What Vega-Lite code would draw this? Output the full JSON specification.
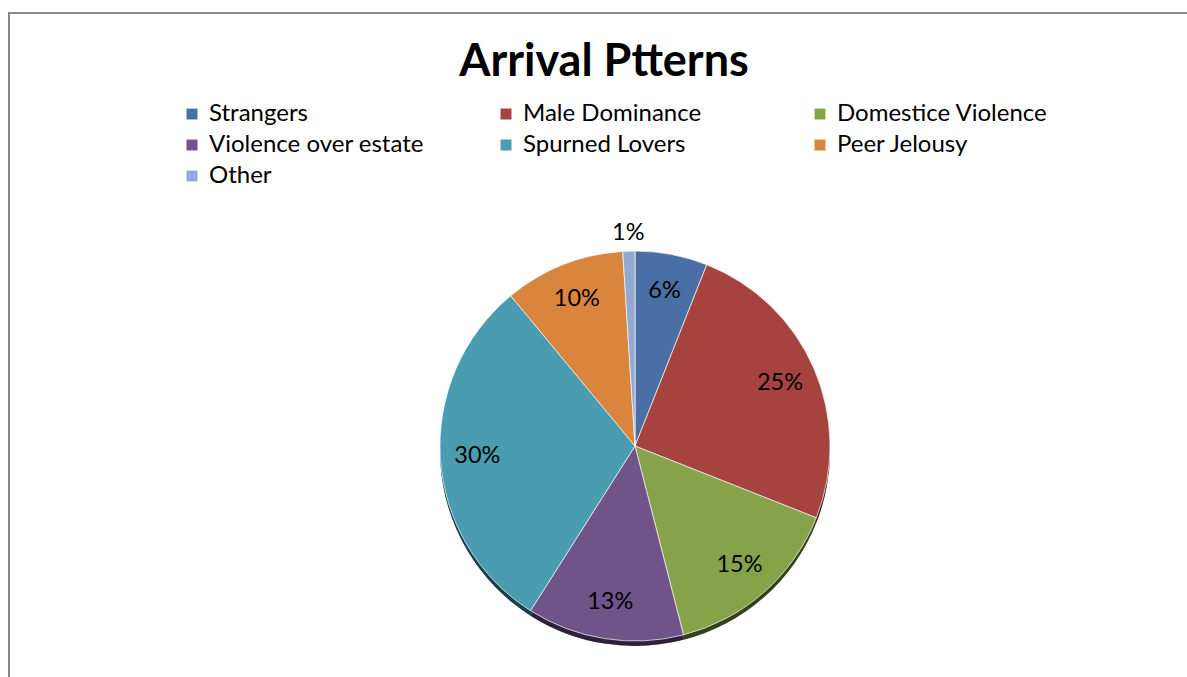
{
  "$schema": "https://vega.github.io/schema/vega-lite/v6.json",
  "width": 1252,
  "height": 866,
  "padding": {"left": 9, "top": 13, "right": 0, "bottom": 0},
  "background": "white",
  "view": {"stroke": "#888888", "strokeWidth": 2, "fill": "white"},
  "title": {
    "text": "Arrival Ptterns",
    "orient": "top",
    "anchor": "middle",
    "offset": -72,
    "dx": -31,
    "font": "Lato",
    "fontSize": 45,
    "fontWeight": "bold",
    "color": "#000000"
  },
  "data": {
    "values": [
      {"idx": 1, "cause": "Strangers", "share": 0.06},
      {"idx": 2, "cause": "Male Dominance", "share": 0.25},
      {"idx": 3, "cause": "Domestice Violence", "share": 0.15},
      {"idx": 4, "cause": "Violence over estate", "share": 0.13},
      {"idx": 5, "cause": "Spurned Lovers", "share": 0.30},
      {"idx": 6, "cause": "Peer Jelousy", "share": 0.10},
      {"idx": 7, "cause": "Other", "share": 0.01}
    ]
  },
  "encoding": {
    "theta": {"field": "share", "type": "quantitative", "stack": true},
    "order": {"field": "idx", "type": "quantitative"},
    "color": {
      "field": "cause", "type": "nominal",
      "sort": null,
      "scale": {
        "domain": ["Strangers", "Male Dominance", "Domestice Violence", "Violence over estate", "Spurned Lovers", "Peer Jelousy", "Other"],
        "range": ["#4A6FA5", "#A6433F", "#86A34A", "#6F5389", "#4A9CB1", "#DA853E", "#93A9D2"]
      },
      "legend": {
        "title": null,
        "orient": "none",
        "legendX": 171,
        "legendY": 89,
        "direction": "horizontal",
        "columns": 3,
        "gridAlign": "all",
        "columnPadding": 70,
        "rowPadding": 7,
        "symbolType": "square",
        "symbolSize": 120,
        "symbolStrokeWidth": 0,
        "labelFont": "Lato",
        "labelFontSize": 24,
        "labelColor": "#000000",
        "labelOffset": 5,
        "labelLimit": 400,
        "padding": 0
      }
    }
  },
  "layer": [
    {
      "mark": {"type": "arc", "radius": 195, "yOffset": 5, "stroke": null}
    },
    {
      "mark": {"type": "arc", "radius": 195, "yOffset": 5, "fill": "#000000", "fillOpacity": 0.6, "stroke": null},
      "encoding": {}
    },
    {
      "mark": {"type": "arc", "radius": 195, "stroke": "#ffffff", "strokeWidth": 1, "strokeOpacity": 0.7}
    },
    {
      "mark": {"type": "text", "radius": 158, "font": "Lato", "fontSize": 23.5},
      "encoding": {
        "color": {"value": "#000000"},
        "text": {
          "condition": {"test": "datum.share < 0.05", "value": ""},
          "field": "share", "type": "quantitative", "format": ".0%"
        }
      }
    },
    {
      "mark": {"type": "text", "radius": 213, "font": "Lato", "fontSize": 23.5},
      "encoding": {
        "color": {"value": "#000000"},
        "text": {
          "condition": {"test": "datum.share >= 0.05", "value": ""},
          "field": "share", "type": "quantitative", "format": ".0%"
        }
      }
    }
  ]
}
